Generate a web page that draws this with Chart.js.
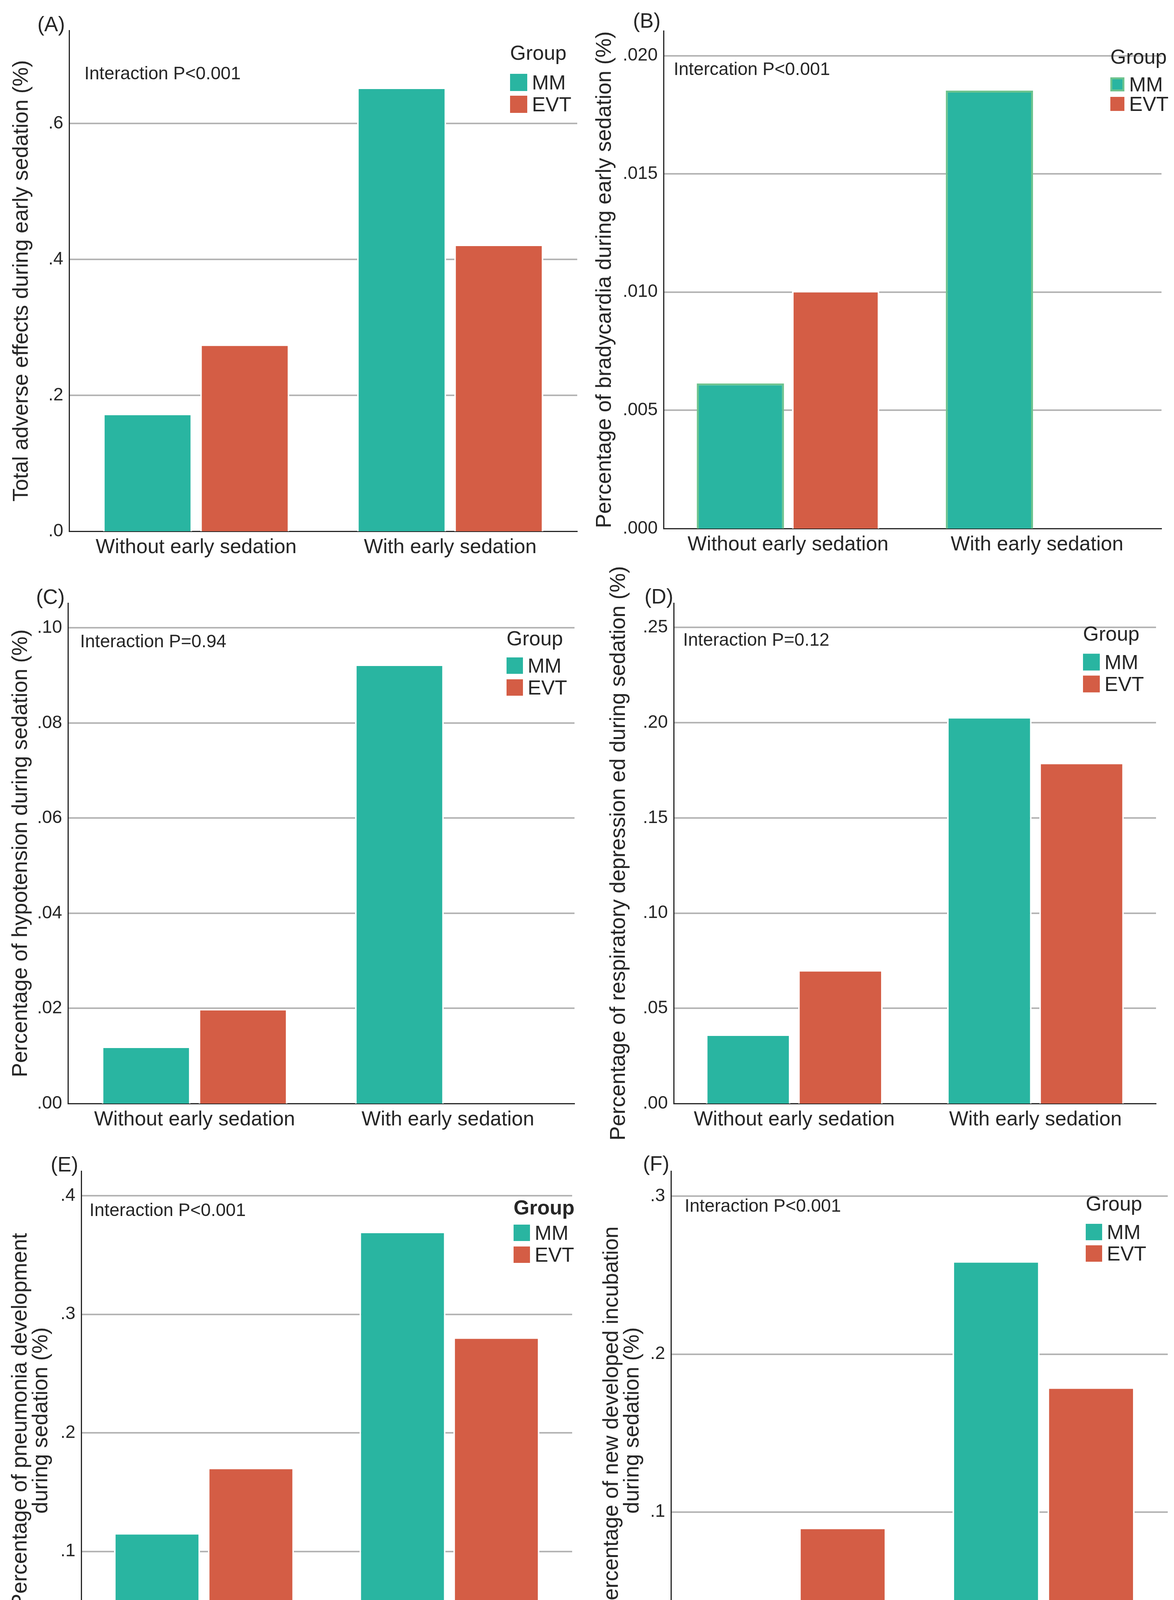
<!DOCTYPE html>
<html>
<head>
<meta charset="utf-8">
<script src="https://cdn.jsdelivr.net/npm/chart.js@4.4.1/dist/chart.umd.min.js"></script>
<style>
  body { margin: 0; background: #fff; width: 3006px; height: 4383px; position: relative; overflow: hidden; }
  canvas { position: absolute; }
</style>
</head>
<body>
<canvas id="cA" width="1503" height="1461" style="left:0px;top:0px"></canvas>
<canvas id="cB" width="1503" height="1461" style="left:1503px;top:0px"></canvas>
<canvas id="cC" width="1503" height="1461" style="left:0px;top:1461px"></canvas>
<canvas id="cD" width="1503" height="1521" style="left:1503px;top:1401px"></canvas>
<canvas id="cE" width="1503" height="1461" style="left:0px;top:2922px"></canvas>
<canvas id="cF" width="1503" height="1461" style="left:1503px;top:2922px"></canvas>
<script>
// categories and groups
const categories = ['Without early sedation', 'With early sedation'];
const categoriesF = ['Without early sedation', 'With early sedaion'];
const groupNames = ['MM', 'EVT'];

// values (proportions)
const mmA = [0.173, 0.653];
const evtA = [0.275, 0.422];
const mmB = [0.00614, 0.01852];
const evtB = [0.01005, 0];
const mmC = [0.0120, 0.0923];
const evtC = [0.0199, 0];
const mmD = [0.0363, 0.203];
const evtD = [0.0701, 0.179];
const mmE = [0.1155, 0.3697];
const evtE = [0.1706, 0.2806];
const mmF = [0.0299, 0.2589];
const evtF = [0.0901, 0.179];

// y axis ticks and top of each axis
const ticksA = [0, 0.2, 0.4, 0.6];
const ticksB = [0, 0.005, 0.010, 0.015, 0.020];
const ticksC = [0, 0.02, 0.04, 0.06, 0.08, 0.10];
const ticksD = [0, 0.05, 0.10, 0.15, 0.20, 0.25];
const ticksE = [0, 0.1, 0.2, 0.3, 0.4];
const ticksF = [0, 0.1, 0.2, 0.3];
const maxA = 0.737, maxB = 0.02105, maxC = 0.1052, maxD = 0.2628, maxE = 0.4208, maxF = 0.3159;

const teal = '#29b5a1';
const red = '#d45d45';
const ink = '#262626';
const grey = '#b4b4b4';
const font = '"Liberation Sans", Arial, sans-serif';
const XH = 100;

// dy: how far the canvas starts above its panel (room for a long axis title)
const panels = [
    { id: 'cA', dy: 0, letter: '(A)', note: 'Interaction P<0.001',
      yTitle: 'Total adverse effects during early sedation (%)',
      labels: categories, mm: mmA, evt: evtA, ticks: ticksA, max: maxA, dec: 1,
      area: { l: 177, t: 78, r: 1478, b: 1360 }, titleX: 56,
      letterPos: [131, 80], notePos: [216, 203],
      legend: { x: 1306, g: 139, mm: 211, evt: 267, s: 44 } },
    { id: 'cB', dy: 0, letter: '(B)', note: 'Intercation P<0.001',
      yTitle: 'Percentage of bradycardia during early sedation (%)',
      labels: categories, mm: mmB, evt: evtB, ticks: ticksB, max: maxB, dec: 3,
      area: { l: 196, t: 79, r: 1471, b: 1353 }, titleX: 46, mmBorder: '#6dc38e',
      letterPos: [153, 71], notePos: [222, 192],
      legend: { x: 1340, g: 149, mm: 216, evt: 266, s: 36 } },
    { id: 'cC', dy: 0, letter: '(C)', note: 'Interaction P=0.94',
      yTitle: 'Percentage of hypotension during sedation (%)',
      labels: categories, mm: mmC, evt: evtC, ticks: ticksC, max: maxC, dec: 2,
      area: { l: 174, t: 83, r: 1471, b: 1364 }, titleX: 54,
      letterPos: [129, 85], notePos: [205, 196],
      legend: { x: 1297, g: 177, mm: 243, evt: 299, s: 42 } },
    { id: 'cD', dy: 60, letter: '(D)', note: 'Interaction P=0.12',
      yTitle: 'Percentage of respiratory depression ed during sedation (%)',
      labels: categories, mm: mmD, evt: evtD, ticks: ticksD, max: maxD, dec: 2,
      area: { l: 222, t: 83, r: 1457, b: 1364 }, titleX: 82,
      letterPos: [184, 84], notePos: [246, 192],
      legend: { x: 1270, g: 165, mm: 234, evt: 290, s: 43 } },
    { id: 'cE', dy: 0, letter: '(E)', note: 'Interaction P<0.001',
      yTitle: ['Percentage of pneumonia development', 'during sedation (%)'],
      labels: categories, mm: mmE, evt: evtE, ticks: ticksE, max: maxE, dec: 1,
      area: { l: 208, t: 76, r: 1465, b: 1353 }, titleX: 53,
      letterPos: [165, 77], notePos: [229, 191],
      legend: { x: 1315, g: 173, mm: 234, evt: 290, s: 42, bold: true } },
    { id: 'cF', dy: 0, letter: '(F)', note: 'Interaction P<0.001',
      yTitle: ['Percentage of new developed incubation', 'during sedation (%)'],
      labels: categoriesF, mm: mmF, evt: evtF, ticks: ticksF, max: maxF, dec: 1,
      area: { l: 215, t: 76, r: 1487, b: 1353 }, titleX: 64,
      letterPos: [177, 75], notePos: [250, 180],
      legend: { x: 1277, g: 163, mm: 232, evt: 287, s: 42 } }
];

const overlay = {
    id: 'overlay',
    afterDraw(chart, args, o) {
        const ctx = chart.ctx;
        const dy = o.dy;
        ctx.save();
        ctx.fillStyle = ink;
        ctx.textBaseline = 'alphabetic';
        ctx.textAlign = 'center';
        ctx.font = '53px ' + font;
        ctx.fillText(o.letter, o.letterPos[0], o.letterPos[1] + dy);
        ctx.textAlign = 'left';
        ctx.font = '46px ' + font;
        ctx.fillText(o.note, o.notePos[0], o.notePos[1] + dy);

        const L = o.legend;
        ctx.textBaseline = 'middle';
        ctx.font = (L.bold ? 'bold ' : '') + '52px ' + font;
        ctx.fillText('Group', L.x, L.g + dy);
        chart.data.datasets.forEach((ds, i) => {
            const cy = (i === 0 ? L.mm : L.evt) + dy;
            ctx.fillStyle = ds.backgroundColor;
            ctx.fillRect(L.x, cy - L.s / 2, L.s, L.s);
            if (ds.borderColor !== '#ffffff') {
                ctx.strokeStyle = ds.borderColor;
                ctx.lineWidth = 5;
                ctx.strokeRect(L.x + 2.5, cy - L.s / 2 + 2.5, L.s - 5, L.s - 5);
            }
            ctx.fillStyle = ink;
            ctx.font = '52px ' + font;
            ctx.fillText(ds.label, L.x + L.s + 12, cy + 4);
        });
        ctx.restore();
    }
};

panels.forEach(p => {
    const canvas = document.getElementById(p.id);
    const W = canvas.width, H = canvas.height;
    const a = p.area;
    const base = -p.max * 5 / (a.b - a.t);
    const titleFont = { family: font, size: 55, lineHeight: 0.95 };

    new Chart(canvas, {
        type: 'bar',
        data: {
            labels: p.labels,
            datasets: [{
                label: groupNames[0],
                data: p.mm,
                backgroundColor: teal,
                borderColor: p.mmBorder || '#ffffff',
                borderWidth: p.mmBorder ? 5 : 4,
                borderSkipped: false,
                base: base,
                categoryPercentage: 0.765,
                barPercentage: 0.916
            }, {
                label: groupNames[1],
                data: p.evt,
                backgroundColor: red,
                borderColor: '#ffffff',
                borderWidth: 4,
                borderSkipped: false,
                base: base,
                categoryPercentage: 0.765,
                barPercentage: 0.916
            }]
        },
        options: {
            responsive: false,
            animation: false,
            devicePixelRatio: 1,
            layout: {
                padding: { left: 0, top: a.t + p.dy, right: W - a.r, bottom: H - (a.b + p.dy) - XH }
            },
            plugins: {
                legend: { display: false },
                tooltip: { enabled: false },
                overlay: p
            },
            scales: {
                x: {
                    grid: { display: false },
                    border: { display: true, color: ink, width: 3 },
                    ticks: { color: ink, font: { family: font, size: 52 }, padding: 2, maxRotation: 0 },
                    afterFit: (scale) => { scale.height = XH; }
                },
                y: {
                    min: 0,
                    max: p.max,
                    afterBuildTicks: (scale) => { scale.ticks = p.ticks.map(v => ({ value: v })); },
                    grid: {
                        drawTicks: false,
                        lineWidth: 4,
                        color: (c) => (c.tick && c.tick.value === 0) ? 'rgba(0,0,0,0)' : grey
                    },
                    border: { display: true, color: ink, width: 3 },
                    ticks: {
                        color: ink,
                        font: { family: font, size: 46 },
                        padding: 15,
                        callback: (v) => Number(v).toFixed(p.dec).replace(/^0/, '')
                    },
                    title: {
                        display: true,
                        text: p.yTitle,
                        color: ink,
                        font: titleFont,
                        padding: { top: p.titleX - 26, bottom: 0 }
                    },
                    afterFit: (scale) => { scale.width = a.l; }
                }
            }
        },
        plugins: [overlay]
    });
});
</script>
</body>
</html>
